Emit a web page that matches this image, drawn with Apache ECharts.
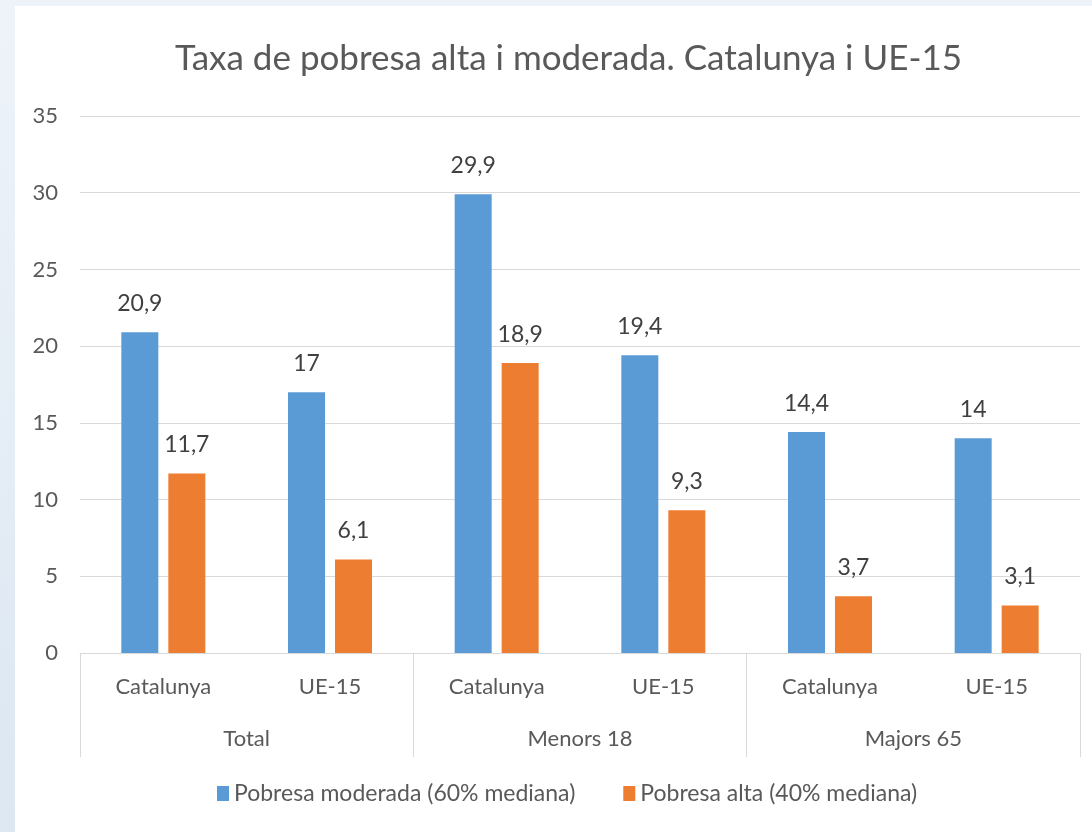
<!DOCTYPE html>
<html>
<head>
<meta charset="utf-8">
<script src="https://cdn.jsdelivr.net/npm/echarts@6/dist/echarts.min.js"></script>
<style>
  html, body { margin: 0; padding: 0; }
  #chart { width: 1092px; height: 832px; }
</style>
</head>
<body>
<div id="chart"></div>
<script>
// dades llegides del gràfic
const subCategories = ['Catalunya', 'UE-15', 'Catalunya', 'UE-15', 'Catalunya', 'UE-15'];
const groups = ['Total', 'Menors 18', 'Majors 65'];
const moderada = [20.9, 17, 29.9, 19.4, 14.4, 14];
const alta = [11.7, 6.1, 18.9, 9.3, 3.7, 3.1];
const seriesNames = ['Pobresa moderada (60% mediana)', 'Pobresa alta (40% mediana)'];

const FONT = 'Lato, "Open Sans", sans-serif';
const chart = echarts.init(document.getElementById('chart'), null, { renderer: 'canvas' });

const fmt = (p) => String(p.value).replace('.', ',');

const option = {
    backgroundColor: {
        type: 'linear', x: 0, y: 0, x2: 0, y2: 1,
        colorStops: [
            { offset: 0, color: '#eef3f9' },
            { offset: 1, color: '#dce7f2' }
        ]
    },
    graphic: [{
        type: 'rect',
        z: -10,
        silent: true,
        shape: { x: 15, y: 6, width: 1077, height: 826 },
        style: { fill: '#ffffff' }
    }],
    title: {
        text: 'Taxa de pobresa alta i moderada. Catalunya i UE-15',
        left: 170,
        top: 36,
        textStyle: { fontFamily: FONT, fontWeight: 'normal', fontSize: 35, color: '#595959' }
    },
    legend: {
        bottom: 22,
        left: 212,
        itemWidth: 12,
        itemHeight: 15,
        itemGap: 48,
        icon: 'rect',
        textStyle: { fontFamily: FONT, fontSize: 23, color: '#595959' },
        data: seriesNames
    },
    grid: { left: 80, right: 12, top: 116, bottom: 179 },
    yAxis: {
        type: 'value',
        min: 0,
        max: 35,
        interval: 5,
        axisLine: { show: false },
        axisTick: { show: false },
        axisLabel: { fontFamily: FONT, fontSize: 22, color: '#595959', margin: 22 },
        splitLine: { lineStyle: { color: '#d9d9d9', width: 1 } }
    },
    xAxis: [
        {
            type: 'category',
            data: subCategories,
            axisLine: { lineStyle: { color: '#d9d9d9' } },
            axisTick: { show: false },
            axisLabel: { fontFamily: FONT, fontSize: 22, color: '#595959', margin: 23 }
        },
        {
            type: 'category',
            data: groups,
            position: 'bottom',
            axisLine: { show: false },
            axisTick: { show: true, length: 104, lineStyle: { color: '#d9d9d9' } },
            axisLabel: { fontFamily: FONT, fontSize: 22, color: '#595959', margin: 75 },
            splitLine: { show: false }
        }
    ],
    series: [
        {
            name: seriesNames[0],
            type: 'bar',
            xAxisIndex: 0,
            data: moderada,
            barWidth: 37,
            barGap: '27%',
            itemStyle: { color: '#5b9bd5' },
            label: {
                show: true, position: 'top', distance: 17,
                formatter: fmt,
                fontFamily: FONT, fontSize: 23, color: '#404040'
            }
        },
        {
            name: seriesNames[1],
            type: 'bar',
            xAxisIndex: 0,
            data: alta,
            barWidth: 37,
            itemStyle: { color: '#ed7d31' },
            label: {
                show: true, position: 'top', distance: 17,
                formatter: fmt,
                fontFamily: FONT, fontSize: 23, color: '#404040'
            }
        }
    ],
    animation: false
};

chart.setOption(option);
window.addEventListener('resize', () => chart.resize());
</script>
</body>
</html>
